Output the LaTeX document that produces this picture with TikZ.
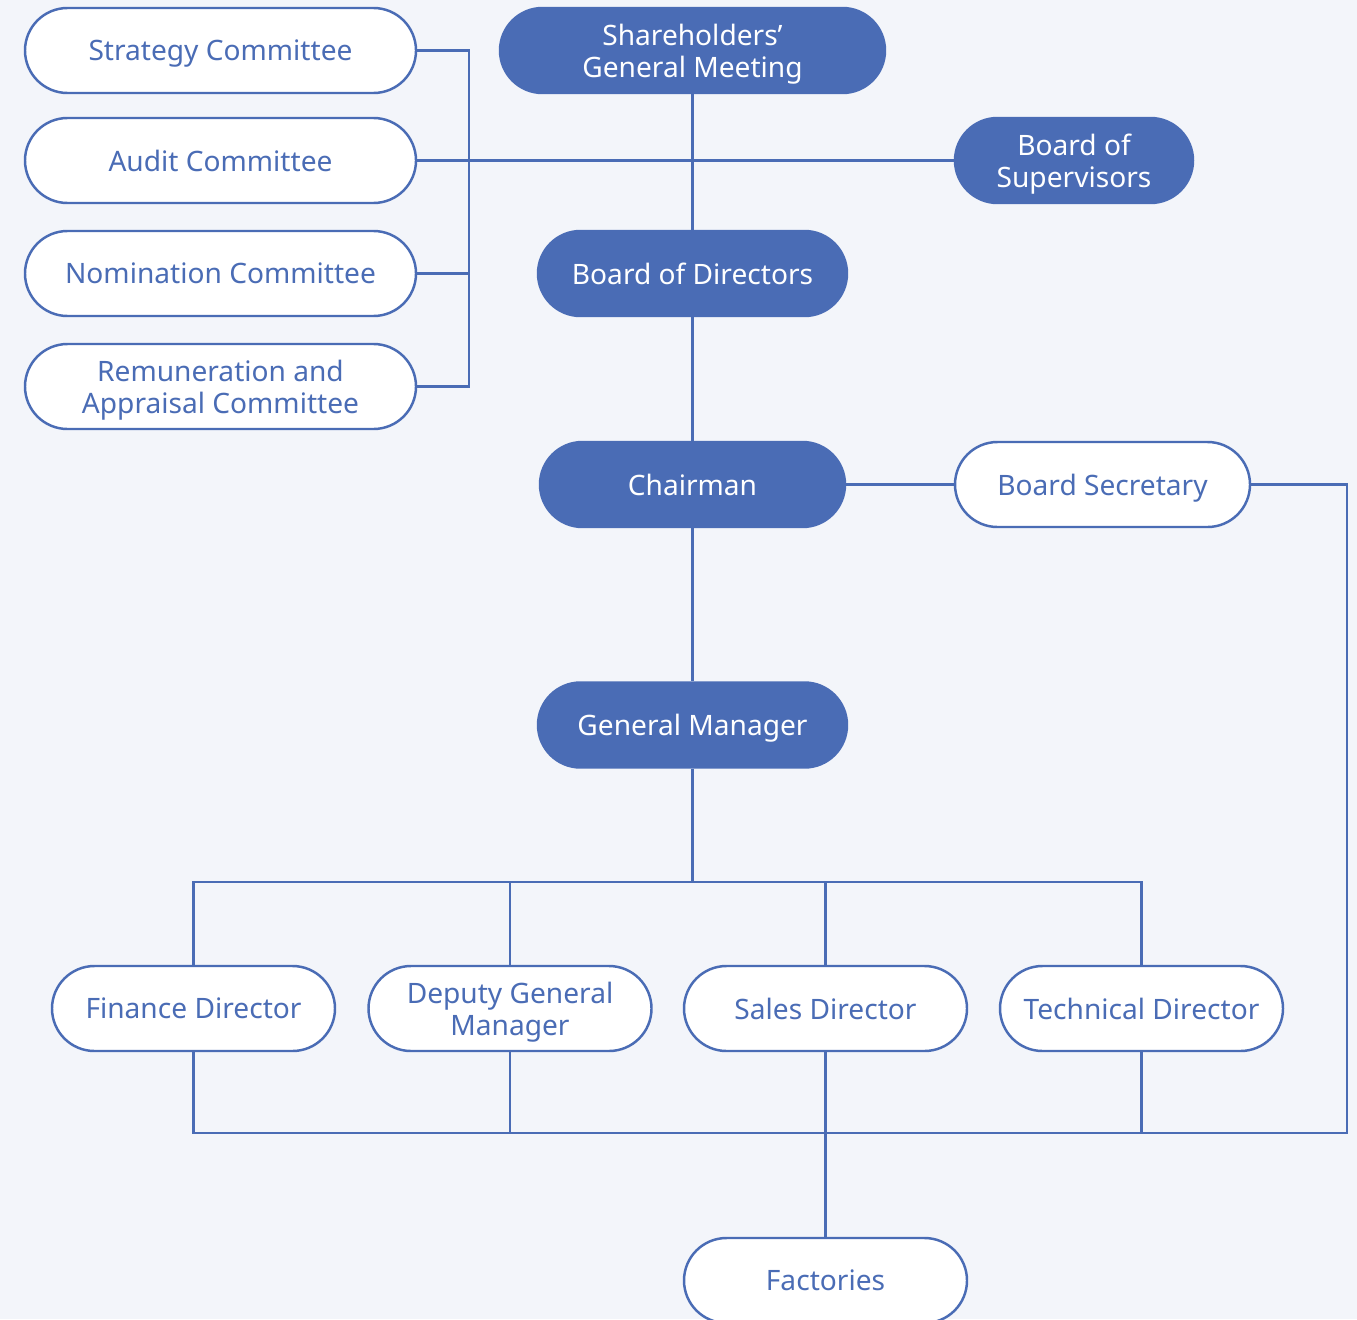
\documentclass[tikz,border=0pt]{standalone}
\usepackage{fontspec}
\setmainfont{Noto Sans}
\usepackage{tikz}
\usetikzlibrary{positioning, calc}

\definecolor{orgblue}{RGB}{74,108,181}
\definecolor{fondclair}{RGB}{243,245,250}

\begin{document}
\begin{tikzpicture}[
    boite/.style={draw=orgblue, line width=0.7pt, fill=white, rounded corners=4.25mm, minimum height=0.85cm, align=center, text=orgblue, font=\fontsize{8}{9.2}\selectfont, inner sep=1pt, text depth=0pt},
    plein/.style={boite, fill=orgblue, text=white},
    lien/.style={draw=orgblue, line width=0.7pt}
]
    % Fond
    \fill[fondclair] (0,0) rectangle (13.57,-13.19);
    \clip (0,0) rectangle (13.57,-13.19);

    % Comités
    \node[boite, minimum width=3.91cm] (strategie) at (2.205, -0.505) {Strategy Committee};
    \node[boite, minimum width=3.91cm] (audit) at (2.205, -1.605) {Audit Committee};
    \node[boite, minimum width=3.91cm] (nomination) at (2.205, -2.735) {Nomination Committee};
    \node[boite, minimum width=3.91cm] (remuneration) at (2.205, -3.865) {Remuneration and\\Appraisal Committee};

    % Nœuds principaux
    \node[plein, minimum width=3.85cm] (assemblee) at (6.925, -0.505) {Shareholders’\\General Meeting};
    \node[plein, minimum width=2.38cm] (surveillance) at (10.74, -1.605) {Board of\\Supervisors};
    \node[plein, minimum width=3.09cm] (conseil) at (6.925, -2.735) {Board of Directors};
    \node[plein, minimum width=3.05cm] (president) at (6.925, -4.845) {Chairman};
    \node[boite, minimum width=2.95cm] (secretaire) at (11.025, -4.845) {Board Secretary};
    \node[plein, minimum width=3.09cm] (dg) at (6.925, -7.25) {General Manager};

    % Directeurs
    \node[boite, minimum width=2.83cm] (finance) at (1.935, -10.085) {Finance Director};
    \node[boite, minimum width=2.83cm] (adjoint) at (5.10, -10.085) {Deputy General\\Manager};
    \node[boite, minimum width=2.83cm] (ventes) at (8.255, -10.085) {Sales Director};
    \node[boite, minimum width=2.83cm] (technique) at (11.415, -10.085) {Technical Director};
    \node[boite, minimum width=2.83cm] (usines) at (8.255, -12.805) {Factories};

    % Points de jonction
    \coordinate (comhaut) at (4.69, -0.505);
    \coordinate (combas) at (4.69, -3.865);
    \coordinate (barrehaut) at (6.925, -8.82);
    \coordinate (barrebas) at (13.47, -11.33);

    % Liens des comités
    \draw[lien] (strategie.east) -- (comhaut) -- (combas) -- (remuneration.east);
    \draw[lien] (nomination.east) -- (nomination.east -| comhaut);
    \draw[lien] (audit.east) -- (surveillance.west);

    % Ligne hiérarchique
    \draw[lien] (assemblee) -- (conseil);
    \draw[lien] (conseil) -- (president);
    \draw[lien] (president) -- (secretaire);
    \draw[lien] (president) -- (dg);

    % Barre des directeurs
    \draw[lien] (dg) -- (barrehaut);
    \draw[lien] (finance.north) |- (barrehaut) -| (technique.north);
    \draw[lien] (adjoint.north) -- (adjoint.north |- barrehaut);
    \draw[lien] (ventes.north) -- (ventes.north |- barrehaut);

    % Retour par le bas
    \draw[lien] (secretaire.east) -| (barrebas) -- (finance.south |- barrebas) -- (finance.south);
    \draw[lien] (adjoint.south) -- (adjoint.south |- barrebas);
    \draw[lien] (technique.south) -- (technique.south |- barrebas);
    \draw[lien] (ventes) -- (usines);

\end{tikzpicture}
\end{document}
